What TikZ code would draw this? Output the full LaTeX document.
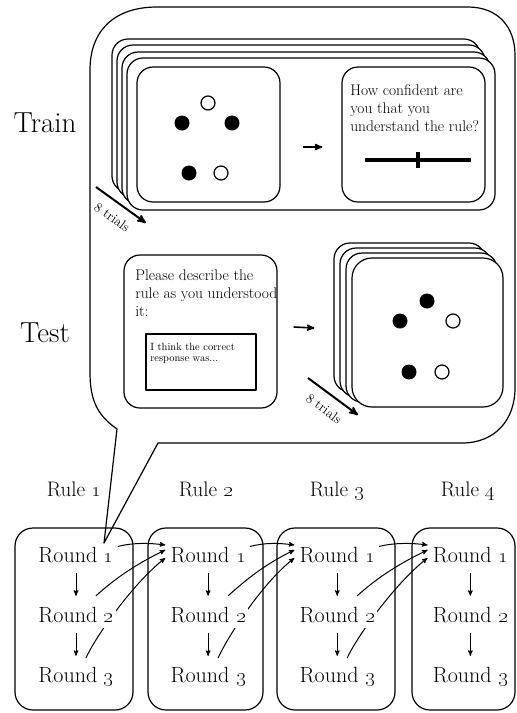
\documentclass[tikz,border=0pt]{standalone}
\usetikzlibrary{arrows}
\usetikzlibrary{positioning}
\usetikzlibrary{calc}
\pgfdeclarelayer{background}
\pgfsetlayers{background,main}

\begin{document}
\begin{tikzpicture}[x=1pt,y=-1pt,>=stealth',line join=round,
		semithick]
		\tikzstyle{bubble}=[draw,line width=1.2pt]
		\tikzstyle{card}=[draw,fill=white,line width=1.2pt,rounded corners=16pt]
		\tikzstyle{panel}=[draw,fill=white,line width=1.2pt,rounded corners=16pt,inner sep=0pt]
		\tikzstyle{blackdot}=[circle,fill=black,minimum size=15pt,inner sep=0pt]
		\tikzstyle{whitedot}=[circle,draw,fill=white,line width=1.2pt,minimum size=14pt,inner sep=0pt]
		\tikzstyle{big}=[font=\fontsize{29}{32}\selectfont,anchor=base]
		\tikzstyle{ruletext}=[font=\fontsize{21}{24}\selectfont,anchor=base]
		\tikzstyle{roundtext}=[font=\fontsize{22}{26}\selectfont,fill=white,inner sep=2pt,
			text height=15pt,text depth=4pt]
		\tikzstyle{rulebox}=[draw,line width=1.2pt,rounded corners=18pt,inner sep=0pt,
			minimum height=182pt]
		\tikzstyle{flow}=[->,line width=1pt]
		\tikzstyle{trials}=[->,line width=2pt]
		\tikzstyle{prompt}=[font=\fontsize{15.5}{18}\selectfont,align=left,inner sep=0pt,anchor=north west]
		\tikzstyle{hint}=[font=\fontsize{10.5}{11}\selectfont,align=left,inner sep=0pt,anchor=north west]
		\tikzstyle{count}=[sloped,below=6pt,font=\fontsize{13.5}{15}\selectfont]

		\useasboundingbox (0,0) rectangle (517,713);

		% speech bubble
		\coordinate (tip) at (104,543);
		\draw[bubble] (117,429) .. controls (97,415) and (90,400) .. (90,372)
		-- (90,70) .. controls (90,30) and (115,7) .. (157,7)
		-- (468,7) .. controls (498,7) and (515,27) .. (515,55)
		-- (515,388) .. controls (515,420) and (495,443) .. (462,443)
		-- (158,443) -- (tip) -- cycle;

		\node[big] (train) at (45,132) {Train};
		\node[big] (test) at (45,342) {Test};

		% train trials
		\draw[card] (112,39) rectangle (480,192);
		\draw[card] (117,45) rectangle (485,198);
		\draw[card] (122,52) rectangle (490,204);
		\draw[card] (127,58) rectangle (495,210);
		\node[panel,minimum width=143pt,minimum height=135pt] (shown) at (208.5,134.5) {};
		\node[panel,minimum width=143pt,minimum height=135pt] (conf) at (413.5,134.5) {};
		\node[whitedot] (a1) at (208,103) {};
		\node[blackdot] (a2) at (182,123) {};
		\node[blackdot] (a3) at (232,123) {};
		\node[blackdot] (a4) at (189,173) {};
		\node[whitedot] (a5) at (221,173) {};
		\node[prompt] (howsure) at (350,84) {How confident are\\you that you\\understand the rule?};
		\draw[line width=4pt] (365,160) -- (471,160);
		\draw[line width=4pt] (418,152) -- (418,168);
		\draw[flow,line width=1.6pt] ($(shown.east)+(22,12.5)$) -- ($(conf.west)+(-19,12.5)$);
		\coordinate (ta) at (96,187);
		\coordinate (tb) at (146,223);
		\draw[trials] (ta) -- node[count] {8 trials} (tb);

		% test trials
		\node[panel,minimum width=153pt,minimum height=153pt] (ask) at (200.5,331.5) {};
		\node[prompt] (describe) at (135,269) {Please describe the\\rule as you understood\\it:};
		\node[draw,line width=1.2pt,minimum width=110pt,minimum height=56pt] (field) at (201,362) {};
		\node[hint] (answer) at (150,342.7) {I think the correct\\response was...};
		\draw[card] (334,243) rectangle (485,392);
		\draw[card] (340,248) rectangle (491,397);
		\draw[card] (346,253) rectangle (497,402);
		\node[panel,minimum width=151pt,minimum height=149pt,rounded corners=20pt] (probe) at (427.5,332.5) {};
		\node[blackdot] (b1) at (427,301) {};
		\node[blackdot] (b2) at (400,321) {};
		\node[whitedot] (b3) at (453,321) {};
		\node[blackdot] (b4) at (409,372) {};
		\node[whitedot] (b5) at (442,372) {};
		\draw[flow,line width=1.6pt] ($(ask.east)+(16,-4.5)$) -- ($(probe.west)+(-37,-4.5)$);
		\coordinate (tc) at (308,378);
		\coordinate (td) at (358,415);
		\draw[trials] (tc) -- node[count] {8 trials} (td);

		% rules and rounds
		\node[rulebox,minimum width=118pt] (box1) at (74,619) {};
		\node[rulebox,minimum width=115pt] (box2) at (205.5,619) {};
		\node[rulebox,minimum width=118pt] (box3) at (336,619) {};
		\node[rulebox,minimum width=103pt] (box4) at (463.5,619) {};
		\node[ruletext] (rule1) at (74,496) {Rule \oldstylenums{1}};
		\node[ruletext] (rule2) at (206,496) {Rule \oldstylenums{2}};
		\node[ruletext] (rule3) at (337,496) {Rule \oldstylenums{3}};
		\node[ruletext] (rule4) at (468,496) {Rule \oldstylenums{4}};

		\node[roundtext] (r11) at (76,556.5) {Round \oldstylenums{1}};
		\node[roundtext] (r12) [below=36.5pt of r11] {Round \oldstylenums{2}};
		\node[roundtext] (r13) [below=36.5pt of r12] {Round \oldstylenums{3}};
		\node[roundtext] (r21) [right=52.5pt of r11] {Round \oldstylenums{1}};
		\node[roundtext] (r22) [below=36.5pt of r21] {Round \oldstylenums{2}};
		\node[roundtext] (r23) [below=36.5pt of r22] {Round \oldstylenums{3}};
		\node[roundtext] (r31) [right=49.5pt of r21] {Round \oldstylenums{1}};
		\node[roundtext] (r32) [below=36.5pt of r31] {Round \oldstylenums{2}};
		\node[roundtext] (r33) [below=36.5pt of r32] {Round \oldstylenums{3}};
		\node[roundtext] (r41) [right=53.5pt of r31] {Round \oldstylenums{1}};
		\node[roundtext] (r42) [below=36.5pt of r41] {Round \oldstylenums{2}};
		\node[roundtext] (r43) [below=36.5pt of r42] {Round \oldstylenums{3}};

		\path (r11) edge[flow,shorten <=5pt,shorten >=9pt] (r12)
		(r12) edge[flow,shorten <=5pt,shorten >=9pt] (r13)
		(r21) edge[flow,shorten <=5pt,shorten >=9pt] (r22)
		(r22) edge[flow,shorten <=5pt,shorten >=9pt] (r23)
		(r31) edge[flow,shorten <=5pt,shorten >=9pt] (r32)
		(r32) edge[flow,shorten <=5pt,shorten >=9pt] (r33)
		(r41) edge[flow,shorten <=5pt,shorten >=9pt] (r42)
		(r42) edge[flow,shorten <=5pt,shorten >=9pt] (r43);

		\begin{pgfonlayer}{background}
		\draw[flow] ($(r11.east)+(2,-10)$) .. controls +(15,-4) and +(-15,-2) .. ($(r21.west)+(-3,-11.5)$);
		\draw[flow] ($(r12.north)+(20,-9)$) .. controls +(22,-20) and +(-25,12) .. ($(r21.west)+(-3,-6.5)$);
		\draw[flow] ($(r13.north)+(10,-7)$) .. controls +(10,-22) and +(-32,25) .. ($(r21.west)+(-3,1.5)$);
		\draw[flow] ($(r21.east)+(2,-10)$) .. controls +(15,-4) and +(-15,-2) .. ($(r31.west)+(-3,-11.5)$);
		\draw[flow] ($(r22.north)+(20,-9)$) .. controls +(22,-20) and +(-25,12) .. ($(r31.west)+(-3,-6.5)$);
		\draw[flow] ($(r23.north)+(10,-7)$) .. controls +(10,-22) and +(-32,25) .. ($(r31.west)+(-3,1.5)$);
		\draw[flow] ($(r31.east)+(2,-10)$) .. controls +(15,-4) and +(-15,-2) .. ($(r41.west)+(-3,-11.5)$);
		\draw[flow] ($(r32.north)+(20,-9)$) .. controls +(22,-20) and +(-25,12) .. ($(r41.west)+(-3,-6.5)$);
		\draw[flow] ($(r33.north)+(10,-7)$) .. controls +(10,-22) and +(-32,25) .. ($(r41.west)+(-3,1.5)$);
		\end{pgfonlayer}
\end{tikzpicture}
\end{document}
